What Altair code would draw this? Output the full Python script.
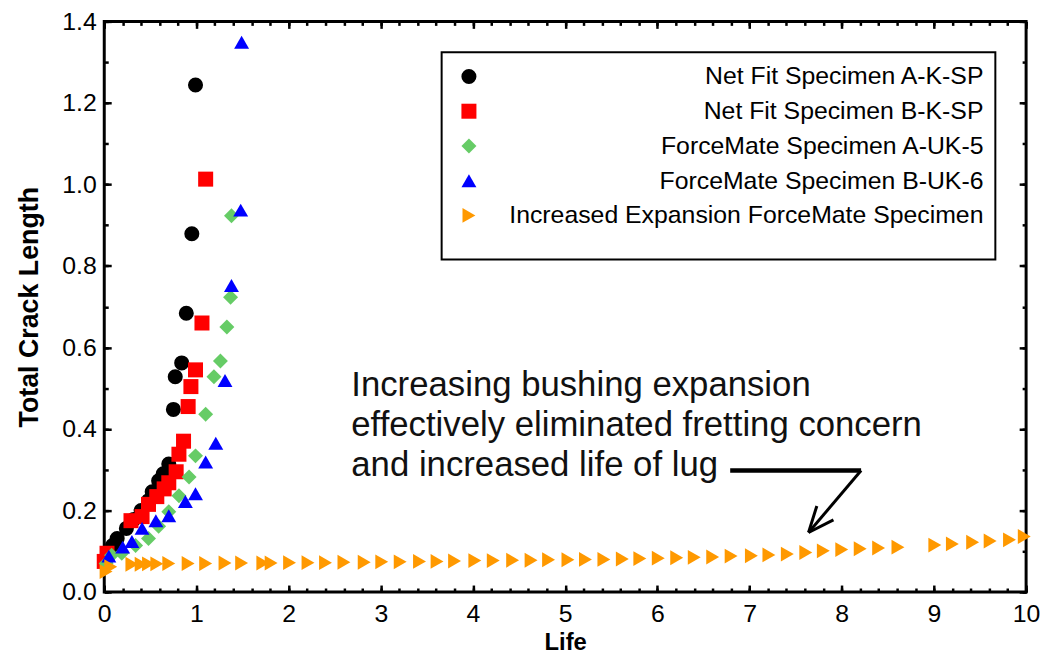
import altair as alt
import pandas as pd
import numpy as np

# ---------------- data ----------------
series_names = [
    "Net Fit Specimen A-K-SP",
    "Net Fit Specimen B-K-SP",
    "ForceMate Specimen A-UK-5",
    "ForceMate Specimen B-UK-6",
    "Increased Expansion ForceMate Specimen",
]
series_colors = ["#000000", "#ff0000", "#66cc66", "#0000ff", "#ff9900"]
series_shapes = ["circle", "square", "diamond", "triangle-up", "triangle-right"]
series_sizes = [230, 225, 300, 280, 200]

a_k_life = [0.03, 0.09, 0.14, 0.24, 0.32, 0.40, 0.48, 0.52, 0.59, 0.64, 0.70, 0.75, 0.77, 0.84, 0.89, 0.95, 0.99]
a_k_len = [0.085, 0.114, 0.131, 0.156, 0.178, 0.200, 0.224, 0.246, 0.273, 0.290, 0.314, 0.448, 0.528, 0.562, 0.684, 0.879, 1.244]

b_k_life = [0.00, 0.03, 0.29, 0.41, 0.48, 0.57, 0.65, 0.70, 0.78, 0.81, 0.86, 0.91, 0.94, 0.99, 1.06, 1.10]
b_k_len = [0.075, 0.095, 0.175, 0.185, 0.215, 0.234, 0.253, 0.268, 0.295, 0.338, 0.370, 0.455, 0.504, 0.545, 0.660, 1.013]

a_uk_life = [0.02, 0.08, 0.19, 0.34, 0.48, 0.59, 0.70, 0.81, 0.92, 0.99, 1.10, 1.19, 1.26, 1.33, 1.37, 1.38]
a_uk_len = [0.070, 0.090, 0.095, 0.114, 0.131, 0.161, 0.197, 0.236, 0.282, 0.334, 0.436, 0.528, 0.567, 0.650, 0.723, 0.923]

b_uk_life = [0.05, 0.20, 0.30, 0.41, 0.56, 0.70, 0.88, 0.99, 1.10, 1.21, 1.31, 1.38, 1.48, 1.49]
b_uk_len = [0.088, 0.110, 0.124, 0.156, 0.175, 0.187, 0.222, 0.241, 0.319, 0.365, 0.519, 0.752, 0.937, 1.349]

inc_life = [0.02, 0.07, 0.30, 0.40, 0.48, 0.57, 0.70, 0.91, 1.10, 1.31, 1.49, 1.72, 1.81,
            2.01, 2.21, 2.40, 2.60, 2.82, 3.01, 3.21, 3.42, 3.61, 3.80, 4.02, 4.22, 4.43,
            4.63, 4.82, 5.03, 5.22, 5.42, 5.62, 5.81, 6.01, 6.21, 6.40, 6.60, 6.80, 7.02,
            7.21, 7.41, 7.61, 7.80, 8.00, 8.20, 8.40, 8.61, 9.01, 9.20, 9.42, 9.61, 9.82, 9.98]
inc_len = [0.050, 0.062, 0.068, 0.068, 0.069, 0.069, 0.070, 0.070, 0.070, 0.071, 0.071, 0.071, 0.071,
           0.072, 0.072, 0.072, 0.073, 0.073, 0.074, 0.074, 0.075, 0.075, 0.076, 0.077, 0.077, 0.078,
           0.078, 0.079, 0.079, 0.080, 0.080, 0.081, 0.082, 0.083, 0.084, 0.085, 0.086, 0.088, 0.089,
           0.091, 0.093, 0.097, 0.101, 0.104, 0.106, 0.108, 0.110, 0.115, 0.118, 0.122, 0.125, 0.128, 0.136]

note_lines = [
    "Increasing bushing expansion",
    "effectively eliminated fretting concern",
    "and increased life of lug",
]
note_x = [2.68, 2.68, 2.68]
note_y = [0.482, 0.383, 0.285]

# arrow: horizontal leader, then diagonal shaft and the two head strokes
leader_x = [6.79]
leader_x2 = [8.21]
leader_y = [0.298]
leader_y2 = [0.298]
shaft_x = [8.21, 7.64, 7.64]
shaft_y = [0.298, 0.146, 0.146]
shaft_x2 = [7.64, 7.91, 7.73]
shaft_y2 = [0.146, 0.177, 0.211]

x_major = [0, 1, 2, 3, 4, 5, 6, 7, 8, 9, 10]
x_minor = [round(v, 1) for v in np.arange(0, 10.01, 0.2)]
y_major = [0.0, 0.2, 0.4, 0.6, 0.8, 1.0, 1.2, 1.4]
y_minor = [round(v, 2) for v in np.arange(0, 1.401, 0.1)]

# ---------------- tables ----------------
frames = []
for name, lf, ln in zip(series_names,
                        [a_k_life, b_k_life, a_uk_life, b_uk_life, inc_life],
                        [a_k_len, b_k_len, a_uk_len, b_uk_len, inc_len]):
    frames.append(pd.DataFrame({"life": lf, "length": ln, "series": name}))
pts = pd.concat(frames, ignore_index=True)
notes = pd.DataFrame({"life": note_x, "length": note_y, "text": note_lines})
leader = pd.DataFrame({"life": leader_x, "life2": leader_x2, "length": leader_y, "length2": leader_y2})
shaft = pd.DataFrame({"life": shaft_x, "life2": shaft_x2, "length": shaft_y, "length2": shaft_y2})

FONT = "Liberation Sans"
xs = alt.Scale(domain=[0, 10], nice=False, zero=False)
ys = alt.Scale(domain=[0, 1.4], nice=False, zero=False)

MAJ = 7
MIN = 4


def tick_axis(orient, values, size, labels=False, title=None, **kw):
    return alt.Axis(
        orient=orient, values=values, tickSize=size, offset=-size,
        domain=False, grid=False, labels=labels, title=title,
        tickColor="black", tickWidth=2.5, **kw,
    )


ax_bottom = tick_axis(
    "bottom", x_major, MAJ, labels=True, title="Life",
    labelFont=FONT, labelFontSize=25, labelColor="black", labelPadding=10,
    labelFlush=False, titleFont=FONT, titleFontSize=24, titleFontWeight="bold",
    titleColor="black", titlePadding=4,
)
ax_left = tick_axis(
    "left", y_major, MAJ, labels=True, title="Total Crack Length", format=".1f",
    labelFont=FONT, labelFontSize=25, labelColor="black", labelPadding=8,
    titleFont=FONT, titleFontSize=27, titleFontWeight="bold", titleColor="black",
    titlePadding=19,
)

leg = alt.Legend(
    title=" ", titleOrient="bottom", titleFontSize=15, titlePadding=4,
    orient="none", legendX=340, legendY=31,
    labelFont=FONT, labelFontSize=25, labelColor="black", labelAlign="right",
    labelOffset=506, labelLimit=700, symbolSize=150, symbolStrokeWidth=0,
    symbolOffset=3, rowPadding=9, padding=12, strokeColor="black",
    fillColor="white",
)

points = alt.Chart(pts).mark_point(filled=True, opacity=1).encode(
    x=alt.X("life:Q", scale=xs, axis=ax_bottom),
    y=alt.Y("length:Q", scale=ys, axis=ax_left),
    color=alt.Color("series:N", scale=alt.Scale(domain=series_names, range=series_colors), legend=leg),
    shape=alt.Shape("series:N", scale=alt.Scale(domain=series_names, range=series_shapes), legend=leg),
    size=alt.Size("series:O", scale=alt.Scale(domain=series_names, range=series_sizes), legend=None),
)

text = alt.Chart(notes).mark_text(
    align="left", baseline="alphabetic", font=FONT, fontSize=35, color="#111111"
).encode(
    x=alt.X("life:Q", scale=xs, axis=tick_axis("bottom", x_minor, MIN)),
    y=alt.Y("length:Q", scale=ys, axis=tick_axis("left", y_minor, MIN)),
    text="text:N",
)

lead = alt.Chart(leader).mark_rule(color="black", strokeWidth=4.5).encode(
    x=alt.X("life:Q", scale=xs, axis=tick_axis("top", x_major, MAJ)),
    x2="life2:Q",
    y=alt.Y("length:Q", scale=ys, axis=tick_axis("right", y_major, MAJ)),
    y2="length2:Q",
)

arrow = alt.Chart(shaft).mark_rule(color="black", strokeWidth=3).encode(
    x=alt.X("life:Q", scale=xs, axis=tick_axis("top", x_minor, MIN)),
    x2="life2:Q",
    y=alt.Y("length:Q", scale=ys, axis=tick_axis("right", y_minor, MIN)),
    y2="length2:Q",
)

chart = alt.layer(points, text, lead, arrow).resolve_axis(
    x="independent", y="independent"
).properties(
    width=929, height=575, autosize="none",
    padding={"left": 97, "top": 11, "right": 14, "bottom": 63},
    background="white",
).configure_view(
    stroke="black", strokeWidth=3
).configure_legend(
    strokeWidth=2
)

chart.save("out.html", embed_options={"renderer": "svg", "actions": False})
